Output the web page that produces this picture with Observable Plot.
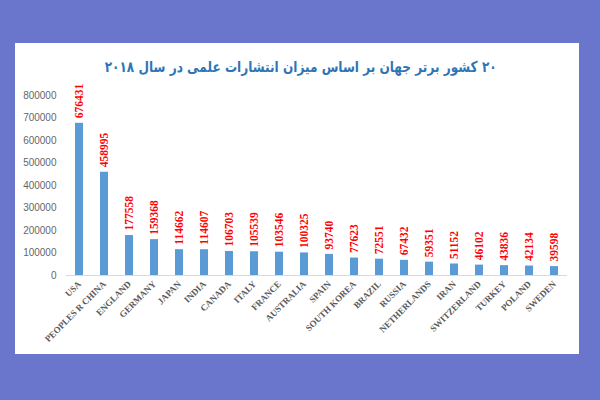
<!DOCTYPE html>
<html>
<head>
<meta charset="utf-8">
<script src="https://cdn.jsdelivr.net/npm/d3@7"></script>
<script src="https://cdn.jsdelivr.net/npm/@observablehq/plot@0.6"></script>
<style>
  html, body { margin: 0; padding: 0; }
  body { width: 600px; height: 400px; background: #6a75cc; position: relative; overflow: hidden; }
  #panel { position: absolute; left: 15px; top: 43px; width: 564px; height: 311px; background: #ffffff; }
  #title { position: absolute; left: 4px; top: 14px; width: 564px; text-align: center; white-space: nowrap;
           font-family: "DejaVu Sans", sans-serif; font-weight: bold; font-size: 15px; line-height: 20px; color: #2e75b6; }
  #title span { direction: rtl; unicode-bidi: embed; display: inline-block; transform-origin: 50% 50%; }
  #chart { position: absolute; left: 0; top: 35px; }
</style>
</head>
<body>
<div id="panel">
  <div id="title"><span id="tt">۲۰ کشور برتر جهان بر اساس میزان انتشارات علمی در سال ۲۰۱۸</span></div>
  <div id="chart"></div>
</div>
<script>
const countries = ["USA","PEOPLES R CHINA","ENGLAND","GERMANY","JAPAN","INDIA","CANADA","ITALY","FRANCE","AUSTRALIA","SPAIN","SOUTH KOREA","BRAZIL","RUSSIA","NETHERLANDS","IRAN","SWITZERLAND","TURKEY","POLAND","SWEDEN"];
const publications = [676431,458995,177558,159368,114662,114607,106703,105539,103546,100325,93740,77623,72551,67432,59351,51152,46102,43836,42134,39598];
const yTicks = [0,100000,200000,300000,400000,500000,600000,700000,800000];

// fit title horizontally to the reference width (~392px)
const tt = document.getElementById("tt");
const w0 = tt.getBoundingClientRect().width;
if (w0 > 0) tt.style.transform = `scaleX(${392 / w0})`;

const data = countries.map((c, i) => ({country: c, value: publications[i]}));

const chart = Plot.plot({
  width: 564,
  height: 276,
  marginLeft: 51,
  marginRight: 12,
  marginTop: 17,
  marginBottom: 79,
  style: {background: "transparent", overflow: "visible"},
  x: {domain: countries, paddingInner: 0.68, paddingOuter: 0.34, label: null},
  y: {domain: [0, 800000], label: null},
  marks: [
    Plot.barY(data, {x: "country", y: "value", fill: "#5b9bd5"}),
    Plot.ruleY([0], {stroke: "#d9d9d9", strokeWidth: 1.2}),
    Plot.axisY({ticks: yTicks, tickSize: 0, tickPadding: 10, tickFormat: d3.format("d"),
      fontSize: 10, fill: "#666666", fontFamily: "Liberation Sans, sans-serif", label: null}),
    Plot.axisX({tickSize: 0, tickPadding: 7, tickRotate: -45, fontSize: 9, fill: "#595959",
      fontFamily: "Liberation Serif, serif", fontWeight: "bold", label: null}),
    Plot.text(data, {x: "country", y: "value", text: d => String(d.value), rotate: -90,
      textAnchor: "start", dy: -5, fill: "#ff0000", fontSize: 11.5, fontWeight: "bold",
      fontFamily: "Liberation Serif, serif"})
  ]
});
document.getElementById("chart").appendChild(chart);
</script>
</body>
</html>
